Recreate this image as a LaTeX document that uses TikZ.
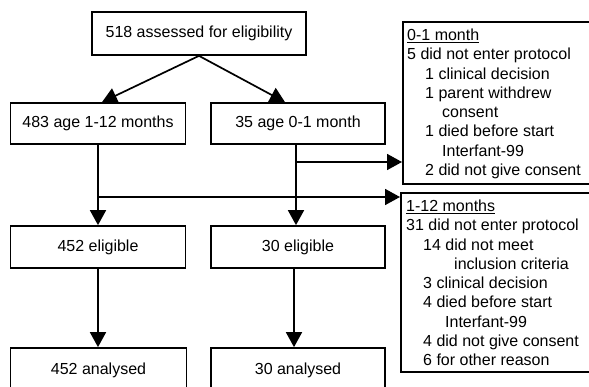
\documentclass[tikz,border=0pt]{standalone}
\usepackage{fontspec}
\setmainfont{Liberation Sans}
\usetikzlibrary{arrows.meta,calc}
\begin{document}
\begin{tikzpicture}[x=1pt,y=-1pt,
  font=\fontsize{16}{19.3}\selectfont,
  box/.style={draw=black, line width=1.7pt, inner sep=0pt, align=center},
  arr/.style={line width=1.7pt, -{Triangle[length=15pt,width=16pt]}},
  ln/.style={anchor=base west, inner sep=0pt}]
\clip (0,0) rectangle (589,387);
% main boxes
\node[box, minimum width=214pt, minimum height=43pt] (top) at (199,33.5) {518 assessed for eligibility};
\node[box, minimum width=175pt, minimum height=41pt] (m1) at (98,123.5) {483 age 1-12 months};
\node[box, minimum width=174pt, minimum height=41pt] (m2) at (298,123.5) {35 age 0-1 month};
\node[box, minimum width=175pt, minimum height=42pt] (e1) at (98,247) {452 eligible};
\node[box, minimum width=174pt, minimum height=42pt] (e2) at (298,247) {30 eligible};
\node[box, minimum width=176pt, minimum height=47pt, text depth=0pt] (a1) at (98.5,371.5) {\raisebox{6pt}{452 analysed}};
\node[box, minimum width=174pt, minimum height=47pt, text depth=0pt] (a2) at (298,371.5) {\raisebox{6pt}{30 analysed}};
% side boxes
\node[box, anchor=north west, minimum width=200pt, minimum height=162pt] (r1) at (402,21) {};
\node[box, anchor=north west, minimum width=200pt, minimum height=179pt] (r2) at (400,192) {};
% side texts
\node[ln] (p1) at (407,40.5) {\underline{0-1 month}};
\node[ln] (p2) at (407,59.8) {5 did not enter protocol};
\node[ln] (p3) at (425,79.1) {1 clinical decision};
\node[ln] (p4) at (425,98.4) {1 parent withdrew};
\node[ln] (p5) at (442,117.7) {consent};
\node[ln] (p6) at (425,137) {1 died before start};
\node[ln] (p7) at (442,156.3) {Interfant-99};
\node[ln] (p8) at (425,175.6) {2 did not give consent};
\node[ln] (q1) at (406,211.5) {\underline{1-12 months}};
\node[ln] (q2) at (406,230.8) {31 did not enter protocol};
\node[ln] (q3) at (423,250.1) {14 did not meet};
\node[ln] (q4) at (454,269.4) {inclusion criteria};
\node[ln] (q5) at (423,288.7) {3 clinical decision};
\node[ln] (q6) at (423,308) {4 died before start};
\node[ln] (q7) at (445,327.3) {Interfant-99};
\node[ln] (q8) at (423,346.6) {4 did not give consent};
\node[ln] (q9) at (423,365.9) {6 for other reason};
% connectors
\draw[arr] (top.south) -- ([xshift=4pt]m1.north);
\draw[arr] (top.south) -- ([xshift=-13pt]m2.north);
\coordinate (j1) at (98,197);
\coordinate (j2) at (296,162);
\draw[arr] (m1.south) -- (e1.north);
\draw[arr] ([xshift=-2pt]m2.south) -- ([xshift=-2pt]e2.north);
\draw[arr] (j2) -- (j2 -| r1.west);
\draw[arr] (j1) -- (j1 -| r2.west);
\draw[arr] (e1.south) -- (a1.north -| e1.south);
\draw[arr] ([xshift=-4pt]e2.south) -- ([xshift=-4pt]a2.north -| e2.south);
\end{tikzpicture}
\end{document}
